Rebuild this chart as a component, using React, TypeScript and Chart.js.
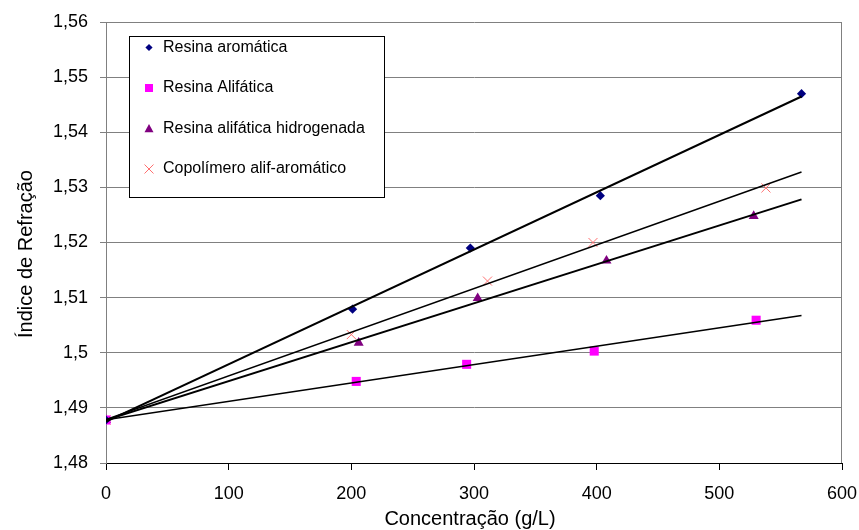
import React, { useEffect, useRef } from 'react';
import { Chart, registerables } from 'chart.js';

Chart.register(...registerables);

const FONT = '"Liberation Sans", Arial, sans-serif';

const seriesNames = [
  'Resina aromática',
  'Resina Alifática',
  'Resina alifática hidrogenada',
  'Copolímero alif-aromático',
];
const seriesColors = ['#000080', '#ff00ff', '#800080', '#ff7070'];

const aromaticX = [0, 201, 297, 403, 567];
const aromaticY = [1.4878, 1.5079, 1.519, 1.5285, 1.547];
const aliphaticX = [0, 204, 294, 398, 530];
const aliphaticY = [1.4878, 1.4948, 1.4979, 1.5003, 1.5059];
const hydroX = [0, 206, 303, 408, 528];
const hydroY = [1.4878, 1.5018, 1.5099, 1.5167, 1.5248];
const copoX = [0, 200, 311, 397, 538];
const copoY = [1.4878, 1.5033, 1.513, 1.52, 1.5299];

const xTicks = [0, 100, 200, 300, 400, 500, 600];
const yTicks = [1.48, 1.49, 1.5, 1.51, 1.52, 1.53, 1.54, 1.55, 1.56];

const xTitle = 'Concentração (g/L)';
const yTitle = 'Índice de Refração';

function fit(xs: number[], ys: number[]) {
  const n = xs.length;
  const mx = xs.reduce((a, b) => a + b, 0) / n;
  const my = ys.reduce((a, b) => a + b, 0) / n;
  let sxy = 0;
  let sxx = 0;
  for (let i = 0; i < n; i++) {
    sxy += (xs[i] - mx) * (ys[i] - my);
    sxx += (xs[i] - mx) * (xs[i] - mx);
  }
  const slope = sxy / sxx;
  return { slope, intercept: my - slope * mx };
}

const allX = [aromaticX, aliphaticX, hydroX, copoX];
const allY = [aromaticY, aliphaticY, hydroY, copoY];
const trendMin = 0;
const trendMax = Math.max(...allX.flat());

const pointStyles = ['rectRot', 'rect', 'triangle', 'crossRot'];
const pointRadii = [4.6, 6.4, 5.8, 6.4];
const trendWidths = [2, 1.5, 2, 1.5];

const overlay = {
  id: 'overlay',
  afterDraw(chart: any) {
    const { ctx, chartArea: a } = chart;
    ctx.save();
    // right border of plot
    ctx.strokeStyle = '#808080';
    ctx.lineWidth = 1;
    ctx.beginPath();
    ctx.moveTo(Math.round(a.right) - 0.5, a.top);
    ctx.lineTo(Math.round(a.right) - 0.5, a.bottom);
    ctx.stroke();

    // legend
    const lx = 129.5, ly = 36.5, lw = 255, lh = 161;
    ctx.fillStyle = '#ffffff';
    ctx.fillRect(lx, ly, lw, lh);
    ctx.strokeStyle = '#000000';
    ctx.strokeRect(lx, ly, lw, lh);
    const mx = 149;
    ctx.font = `16px ${FONT}`;
    ctx.textBaseline = 'middle';
    ctx.textAlign = 'left';
    seriesNames.forEach((name, i) => {
      const cy = 47.5 + i * 40.5;
      ctx.fillStyle = seriesColors[i];
      ctx.strokeStyle = seriesColors[i];
      ctx.beginPath();
      if (i === 0) {
        ctx.moveTo(mx, cy - 3.6);
        ctx.lineTo(mx + 3.6, cy);
        ctx.lineTo(mx, cy + 3.6);
        ctx.lineTo(mx - 3.6, cy);
        ctx.closePath();
        ctx.fill();
      } else if (i === 1) {
        ctx.fillRect(mx - 4, cy - 4, 8, 8);
      } else if (i === 2) {
        ctx.moveTo(mx, cy - 4.5);
        ctx.lineTo(mx + 4.5, cy + 3.8);
        ctx.lineTo(mx - 4.5, cy + 3.8);
        ctx.closePath();
        ctx.fill();
      } else {
        ctx.lineWidth = 1;
        ctx.moveTo(mx - 4.5, cy - 4.5);
        ctx.lineTo(mx + 4.5, cy + 4.5);
        ctx.moveTo(mx + 4.5, cy - 4.5);
        ctx.lineTo(mx - 4.5, cy + 4.5);
        ctx.stroke();
      }
      ctx.fillStyle = '#000000';
      ctx.fillText(name, 163, cy);
    });

    // axis titles
    ctx.fillStyle = '#000000';
    ctx.font = `20px ${FONT}`;
    ctx.textAlign = 'center';
    ctx.textBaseline = 'middle';
    ctx.fillText(xTitle, 470, 519);
    ctx.translate(26, 254);
    ctx.rotate(-Math.PI / 2);
    ctx.fillText(yTitle, 0, 0);
    ctx.restore();
  },
};

export default function App() {
  const ref = useRef<HTMLCanvasElement>(null);

  useEffect(() => {
    if (!ref.current) return;
    Chart.defaults.font.family = FONT;

    const trendSets = allX.map((xs, i) => {
      const { slope, intercept } = fit(xs, allY[i]);
      return {
        type: 'line' as const,
        label: seriesNames[i] + ' (tendência)',
        data: [
          { x: trendMin, y: intercept + slope * trendMin },
          { x: trendMax, y: intercept + slope * trendMax },
        ],
        borderColor: '#000000',
        borderWidth: trendWidths[i],
        pointRadius: 0,
        showLine: true,
        fill: false,
      };
    });

    const pointSets = allX.map((xs, i) => ({
      type: 'scatter' as const,
      label: seriesNames[i],
      data: xs.map((x, j) => ({ x, y: allY[i][j] })),
      pointStyle: pointStyles[i],
      pointRadius: pointRadii[i],
      backgroundColor: seriesColors[i],
      borderColor: seriesColors[i],
      borderWidth: i === 3 ? 1 : 0,
      showLine: false,
    }));

    const chart = new Chart(ref.current, {
      type: 'scatter',
      data: { datasets: [...trendSets, ...pointSets] as any },
      plugins: [overlay],
      options: {
        animation: false,
        responsive: false,
        events: [],
        layout: { padding: { top: 22, right: 17, bottom: 0, left: 0 } },
        plugins: { legend: { display: false }, tooltip: { enabled: false }, title: { display: false } },
        scales: {
          x: {
            type: 'linear',
            min: 0,
            max: 600,
            afterBuildTicks: (s: any) => {
              s.ticks = xTicks.map((v) => ({ value: v }));
            },
            afterFit: (s: any) => {
              s.height = 67;
              s.paddingLeft = 0;
              s.paddingRight = 0;
            },
            grid: {
              drawOnChartArea: false,
              drawTicks: true,
              tickLength: 7,
              tickColor: '#000000',
            },
            border: { color: '#000000', width: 1 },
            ticks: {
              color: '#000000',
              font: { size: 18, family: FONT },
              padding: 13,
              maxRotation: 0,
              autoSkip: false,
            },
          },
          y: {
            type: 'linear',
            min: 1.48,
            max: 1.56,
            afterBuildTicks: (s: any) => {
              s.ticks = yTicks.map((v) => ({ value: v }));
            },
            afterFit: (s: any) => {
              s.width = 106;
              s.paddingTop = 0;
              s.paddingBottom = 0;
            },
            grid: {
              color: '#808080',
              lineWidth: 1,
              drawTicks: true,
              tickLength: 6,
              tickColor: '#808080',
            },
            border: { color: '#808080', width: 1 },
            ticks: {
              color: '#000000',
              font: { size: 18, family: FONT },
              padding: 12,
              autoSkip: false,
              callback: (v: any) => String(Number(Number(v).toFixed(2))).replace('.', ','),
            },
          },
        },
      },
    });
    return () => chart.destroy();
  }, []);

  return (
    <div style={{ position: 'fixed', left: 0, top: 0, width: 859, height: 530, background: '#ffffff' }}>
      <canvas ref={ref} width={859} height={530} style={{ width: 859, height: 530 }} />
    </div>
  );
}
